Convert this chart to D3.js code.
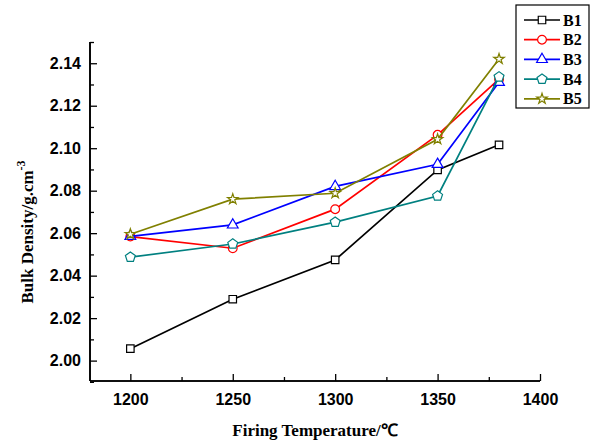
<!DOCTYPE html>
<html><head><meta charset="utf-8">
<script src="https://cdn.jsdelivr.net/npm/d3@7"></script>
<style>body{margin:0;background:#fff}svg{display:block}</style>
</head><body>
<svg id="c" width="592" height="443"></svg>
<script>
const temps = [1200, 1250, 1300, 1350, 1380];
const seriesNames = ["B1", "B2", "B3", "B4", "B5"];
const B1 = [2.0056, 2.0289, 2.0474, 2.0898, 2.1016];
const B2 = [2.0584, 2.0529, 2.0713, 2.1063, 2.1325];
const B3 = [2.0585, 2.0639, 2.0820, 2.0924, 2.1310];
const B4 = [2.0487, 2.0549, 2.0652, 2.0775, 2.1336];
const B5 = [2.0595, 2.0760, 2.0788, 2.1042, 2.1420];
const xTicks = [1200, 1250, 1300, 1350, 1400];
const yTicks = [2.00, 2.02, 2.04, 2.06, 2.08, 2.10, 2.12, 2.14];
const colors = ["#000000", "#ff0000", "#0000ff", "#008080", "#808000"];
const markers = ["square", "circle", "triangle", "pentagon", "star"];
const values = [B1, B2, B3, B4, B5];

const svg = d3.select("#c");
const L = 90, R = 540, T = 42, B = 381;
const x = d3.scaleLinear().domain([1180.3, 1400]).range([L, R]);
const y = d3.scaleLinear().domain([1.9904, 2.15]).range([B, T]);

// axes
const gx = svg.append("g").attr("transform", `translate(0,${B})`);
gx.call(d3.axisBottom(x).tickValues(xTicks).tickSize(-7).tickPadding(13).tickFormat(d3.format("d")));
gx.append("g").call(d3.axisBottom(x).tickValues([1225,1275,1325,1375]).tickSize(-4).tickFormat(""));
const gy = svg.append("g").attr("transform", `translate(${L},0)`);
gy.call(d3.axisLeft(y).tickValues(yTicks).tickSize(-7).tickPadding(9).tickFormat(d3.format(".2f")));
gy.append("g").call(d3.axisLeft(y).tickValues([1.99,2.01,2.03,2.05,2.07,2.09,2.11,2.13,2.15]).tickSize(-4).tickFormat(""));
svg.selectAll(".domain").attr("stroke","#000").attr("stroke-width",1.6);
svg.selectAll(".tick line").attr("stroke","#000").attr("stroke-width",1.3);
svg.selectAll(".tick text").attr("font-family","'Liberation Sans', Arial, sans-serif").attr("font-weight","bold").attr("font-size","16px").attr("fill","#000");
gx.selectAll(".domain").attr("d", `M${L},0H${R}`);
gy.selectAll(".domain").attr("d", `M0,${B}V${T}`);

// titles
svg.append("text").attr("x", 315).attr("y", 436).attr("text-anchor","middle")
  .attr("font-family","'Liberation Serif', 'Times New Roman', serif").attr("font-weight","bold").attr("font-size","17px")
  .text("Firing Temperature/℃");
const yt = svg.append("text").attr("transform","translate(33,232) rotate(-90)").attr("text-anchor","middle")
  .attr("font-family","'Liberation Serif', 'Times New Roman', serif").attr("font-weight","bold").attr("font-size","17px");
yt.append("tspan").text("Bulk Density/g.cm");
yt.append("tspan").attr("dy",-8).attr("font-size","12px").text("-3");

function sym(k){
  const m = {square: d3.symbolSquare, circle: d3.symbolCircle, triangle: d3.symbolTriangle, star: d3.symbolStar};
  if (k === "pentagon") {
    const r = 5.2;
    return d3.range(5).map(i => { const a = -Math.PI/2 + i*2*Math.PI/5; return [r*Math.cos(a), r*Math.sin(a)]; })
      .map((p,i)=> (i?"L":"M")+p[0].toFixed(2)+","+p[1].toFixed(2)).join("")+"Z";
  }
  const sizes = {square: 56, circle: 60, triangle: 50, star: 34};
  return d3.symbol().type(m[k]).size(sizes[k])();
}

const line = d3.line().x(d=>x(d[0])).y(d=>y(d[1]));
values.forEach((vals, si) => {
  const pts = temps.map((t,i)=>[t, vals[i]]);
  svg.append("path").attr("d", line(pts)).attr("fill","none").attr("stroke",colors[si]).attr("stroke-width",1.7);
  svg.selectAll(null).data(pts).enter().append("path")
    .attr("transform", d=>`translate(${x(d[0])},${y(d[1])})`)
    .attr("d", sym(markers[si])).attr("fill","#fff").attr("stroke",colors[si]).attr("stroke-width",1.2);
});

// legend
const lg = svg.append("g");
lg.append("rect").attr("x",516).attr("y",5).attr("width",73).attr("height",103).attr("fill","#fff").attr("stroke","#000").attr("stroke-width",1.2);
seriesNames.forEach((n, i) => {
  const yy = 20 + i*19.7;
  lg.append("line").attr("x1",524).attr("x2",560).attr("y1",yy).attr("y2",yy).attr("stroke",colors[i]).attr("stroke-width",1.7);
  lg.append("path").attr("transform",`translate(542,${yy})`).attr("d",sym(markers[i])).attr("fill","#fff").attr("stroke",colors[i]).attr("stroke-width",1.2);
  lg.append("text").attr("x",563).attr("y",yy+5.5).attr("font-family","'Liberation Serif', 'Times New Roman', serif")
    .attr("font-weight","bold").attr("font-size","16px").text(n);
});
</script>
</body></html>
